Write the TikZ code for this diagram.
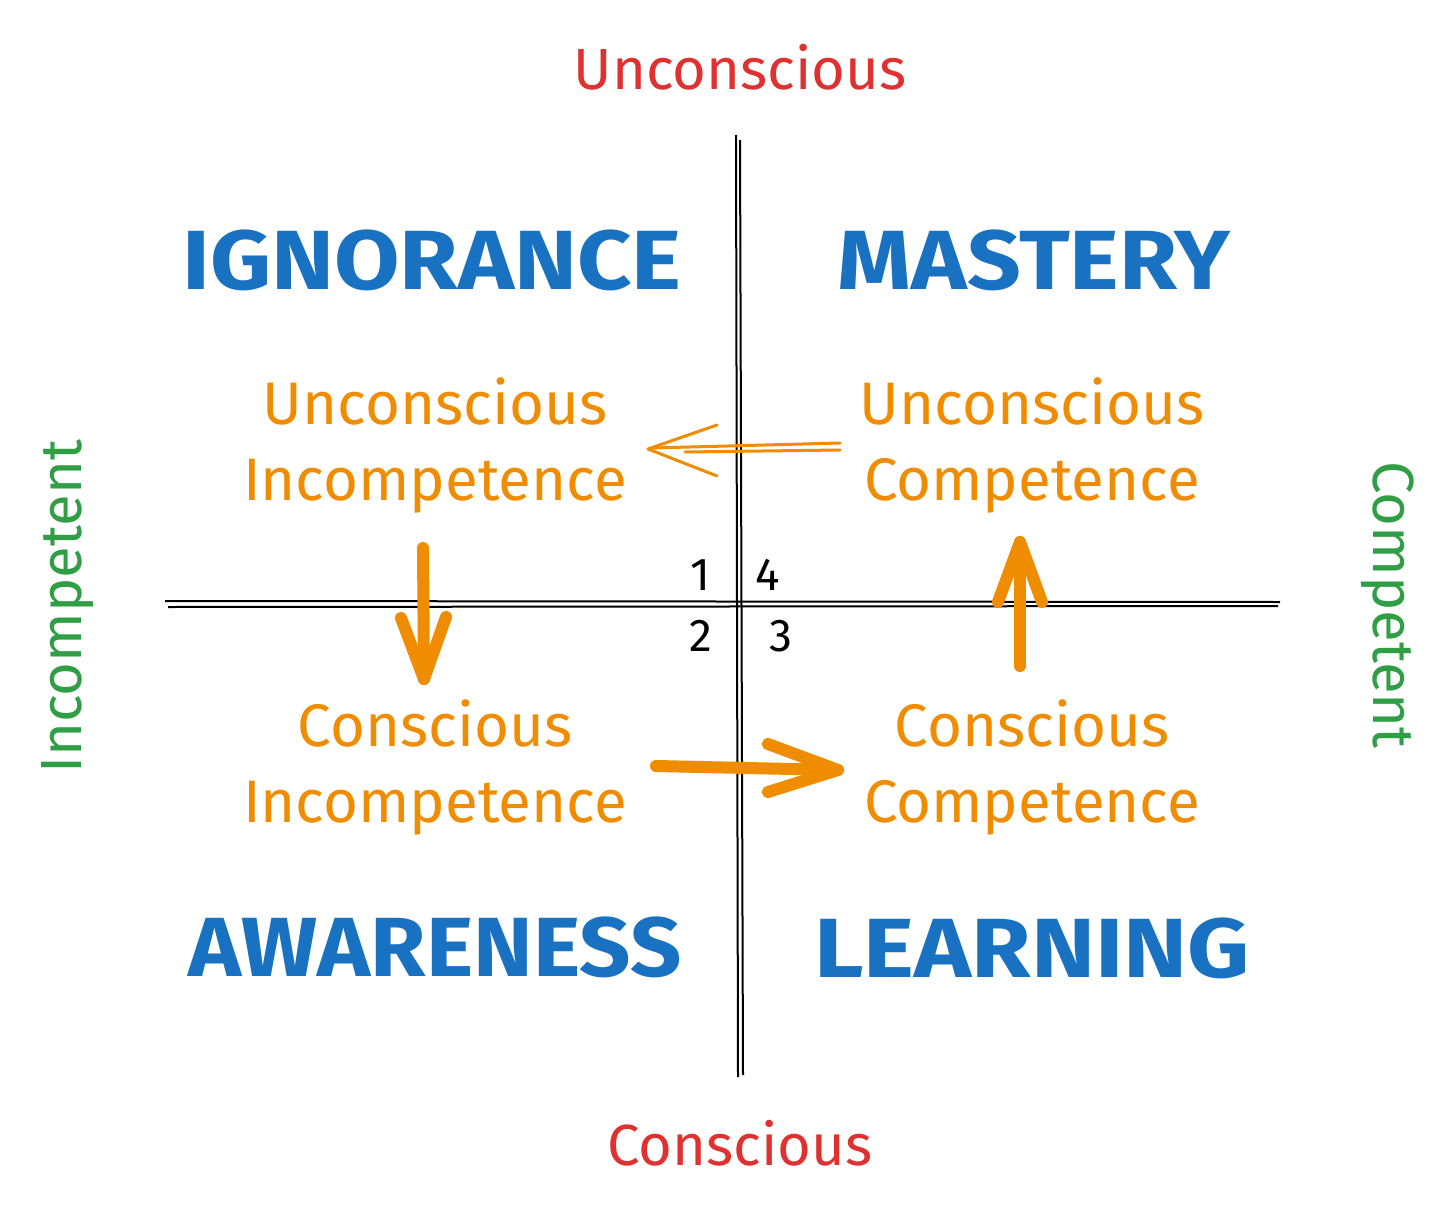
\documentclass[tikz,border=0pt]{standalone}
\usepackage{fontspec}
\usepackage{graphicx}
\setmainfont{Fira Sans}
\usetikzlibrary{calc}
\definecolor{exblue}{HTML}{1971C2}
\definecolor{exorange}{HTML}{F08C00}
\definecolor{exred}{HTML}{E03131}
\definecolor{exgreen}{HTML}{2F9E44}
\newcommand{\widetext}[2]{\scalebox{#1}[1]{#2}}
\tikzset{
  big/.style={text=exblue, font=\fontsize{84}{90}\selectfont\bfseries, inner sep=0pt, anchor=center},
  stage/.style={text=exorange, font=\fontsize{60}{76}\selectfont\mdseries, align=center, inner sep=0pt},
  axisred/.style={text=exred, font=\fontsize{58}{64}\selectfont, inner sep=0pt},
  axisgreen/.style={text=exgreen, font=\fontsize{58}{64}\selectfont, inner sep=0pt},
  num/.style={text=black, font=\fontsize{46}{50}\selectfont, inner sep=0pt},
  axisline/.style={black, line width=2pt},
  fatarrow/.style={exorange, line width=12pt, line cap=round, line join=round},
  thinarrow/.style={exorange, line width=3pt, line cap=round, line join=round},
}
\begin{document}
\begin{tikzpicture}[x=1pt,y=-1pt]
\useasboundingbox (0,0) rectangle (1456,1212);
\fill[white] (0,0) rectangle (1456,1212);
% axes (double hand-drawn strokes)
\coordinate (vt1) at (736,135); \coordinate (vb1) at (738,1077);
\coordinate (vt2) at (740,140); \coordinate (vb2) at (743,1075);
\coordinate (hl1) at (165,601); \coordinate (hr1) at (1280,602);
\coordinate (hl2) at (168,607); \coordinate (hr2) at (1278,606);
\draw[axisline] (vt1) -- (vb1);
\draw[axisline] (vt2) -- (vb2);
\draw[axisline] (hl1) -- (hr1);
\draw[axisline] (hl2) -- (hr2);
% axis labels
\node[axisred] (top) at (740,67) {Unconscious};
\node[axisred] (bottom) at (740,1143) {Conscious};
\node[axisgreen, rotate=90] (left) at (68,607) {Incompetent};
\node[axisgreen, rotate=-90] (right) at (1388,605) {Competent};
% quadrant titles
\node[big] (ign) at (432,260) {\widetext{1.13}{IGNORANCE}};
\node[big] (mas) at (1034,260) {\widetext{1.12}{MASTERY}};
\node[big] (awa) at (435,947) {\widetext{1.07}{AWARENESS}};
\node[big] (lea) at (1032,948) {\widetext{1.15}{LEARNING}};
% stages
\node[stage] (ui) at (435,445) {Unconscious\\Incompetence};
\node[stage] (uc) at (1032,445) {Unconscious\\Competence};
\node[stage] (ci) at (435,767) {Conscious\\Incompetence};
\node[stage] (cc) at (1032,767) {Conscious\\Competence};
% numbers
\node[num] (n1) at (700,575) {1};
\node[num] (n4) at (768,575) {4};
\node[num] (n2) at (701,636) {2};
\node[num] (n3) at (781,636) {3};
% arrows
% 4 -> 1 : hollow double-line arrow
\coordinate (a1s) at (840,443); \coordinate (a1e) at (652,448);
\coordinate (a1s2) at (840,450); \coordinate (a1e2) at (685,452);
\coordinate (a1tip) at (648,449);
\coordinate (a1u) at (717,425); \coordinate (a1d) at (717,476);
\draw[thinarrow] (a1s) -- (a1e);
\draw[thinarrow] (a1s2) -- (a1e2);
\draw[thinarrow] (a1u) -- (a1tip) -- (a1d);
% 1 -> 2
\coordinate (a2s) at (423,548); \coordinate (a2e) at (424,679);
\coordinate (a2l) at (401,618); \coordinate (a2r) at (446,617);
\draw[fatarrow] (a2s) -- (a2e);
\draw[fatarrow] (a2l) -- (a2e) -- (a2r);
% 2 -> 3
\coordinate (a3s) at (656,766); \coordinate (a3e) at (838,770);
\coordinate (a3u) at (768,744); \coordinate (a3d) at (768,792);
\draw[fatarrow] (a3s) -- (a3e);
\draw[fatarrow] (a3u) -- (a3e) -- (a3d);
% 3 -> 4
\coordinate (a4s) at (1020,666); \coordinate (a4e) at (1020,542);
\coordinate (a4l) at (998,602); \coordinate (a4r) at (1042,602);
\draw[fatarrow] (a4s) -- (a4e);
\draw[fatarrow] (a4l) -- (a4e) -- (a4r);
\end{tikzpicture}
\end{document}
